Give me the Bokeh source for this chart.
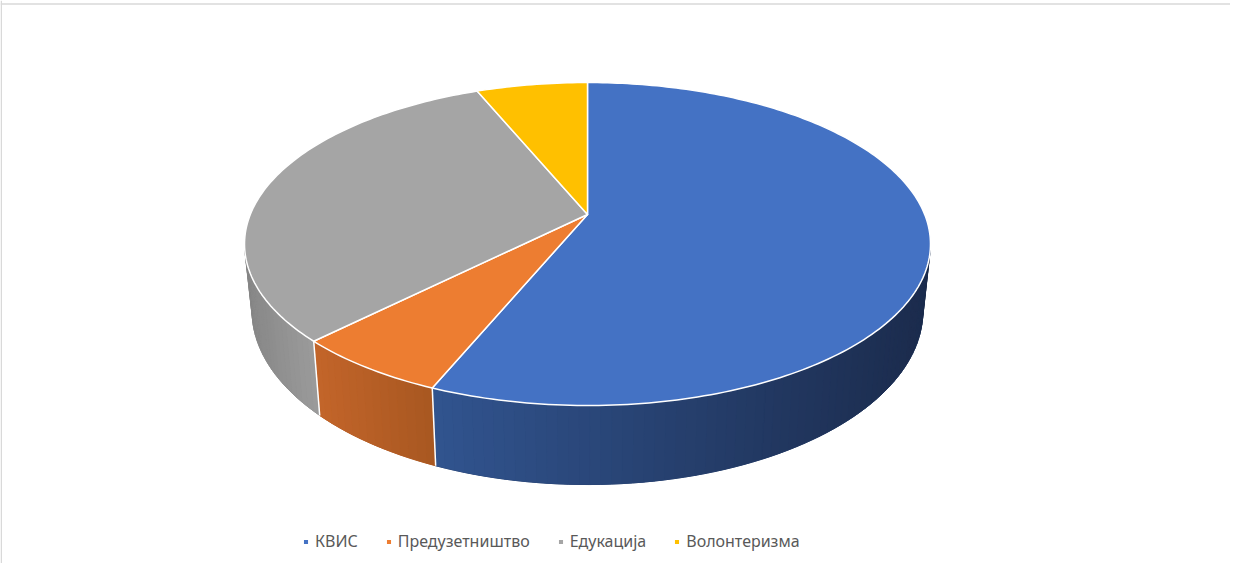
import numpy as np
from bokeh.plotting import figure
from bokeh.models import Range1d, Span, Legend, LegendItem, ColumnDataSource
from bokeh.embed import file_html
from bokeh.resources import INLINE

# ---- data ----
categories = ["КВИС", "Предузетништво", "Едукација", "Волонтеризма"]
values = [18, 2, 10, 2]
top_colors = ["#4472C4", "#ED7D31", "#A5A5A5", "#FFC000"]
side_left_colors = ["#31548F", "#C3652A", "#878787", "#C99700"]
side_right_colors = ["#1B2B4C", "#A85721", "#9B9B9B", "#B08400"]

# ---- layout / projection constants (canvas pixels) ----
W, H = 1230, 563
X0, Y0 = 587.0, 214.0          # projected pie centre
A, B = 337.2, 156.1            # horizontal / vertical radii
K = 0.1827                     # perspective factor
DEPTH = 64.6                   # side wall height
SHRINK = 0.978                 # bottom face slightly smaller (perspective)


def proj(theta, depth=0.0):
    u = np.sin(theta)
    v = -np.cos(theta)
    w = 1.0 - K * v
    s = 1.0 - (1.0 - SHRINK) * depth
    return X0 + s * A * u / w, Y0 + (B * v + depth * DEPTH) / w


def hex2rgb(h):
    h = h.lstrip("#")
    return np.array([int(h[i:i + 2], 16) for i in (0, 2, 4)], dtype=float)


def rgb2hex(c):
    c = np.clip(np.round(c), 0, 255).astype(int)
    return "#%02x%02x%02x" % tuple(c)


total = float(sum(values))
bounds = np.concatenate([[0.0], np.cumsum(values) / total * 2 * np.pi])

# visible (front) range of the side wall
front_lo = np.arctan2(np.sqrt(1 - K * K), -K) % (2 * np.pi)
front_hi = 2 * np.pi - front_lo

p = figure(width=W, height=H, output_backend="svg", toolbar_location=None,
           x_range=Range1d(0, W), y_range=Range1d(H, 0),
           min_border=0, outline_line_color=None)
p.axis.visible = False
p.grid.visible = False
p.background_fill_color = "white"
p.border_fill_color = "white"

# ---- side walls: base patch + gradient strips ----
bx, by, bc = [], [], []
sx, sy, sc = [], [], []
for i in range(len(values)):
    a0, a1 = max(bounds[i], front_lo), min(bounds[i + 1], front_hi)
    if a1 <= a0:
        continue
    n = max(2, int(np.degrees(a1 - a0) / 1.5))
    th = np.linspace(a0, a1, n + 1)
    xt, yt = proj(th, 0.0)
    xb, yb = proj(th, 1.0)
    xmin, xmax = xt.min(), xt.max()
    cl, cr = hex2rgb(side_left_colors[i]), hex2rgb(side_right_colors[i])
    bx.append(list(xt) + list(xb[::-1]))
    by.append(list(yt) + list(yb[::-1]))
    bc.append(rgb2hex((cl + cr) / 2))
    for j in range(n):
        xs_ = [xt[j], xt[j + 1], xb[j + 1], xb[j]]
        ys_ = [yt[j], yt[j + 1], yb[j + 1], yb[j]]
        t = ((xt[j] + xt[j + 1]) / 2 - xmin) / max(xmax - xmin, 1e-6)
        sx.append(xs_)
        sy.append(ys_)
        sc.append(rgb2hex(cl + (cr - cl) * t))
p.patches(xs="xs", ys="ys", fill_color="c", line_color="c", line_width=1,
          source=ColumnDataSource(dict(xs=bx, ys=by, c=bc)))
p.patches(xs="xs", ys="ys", fill_color="c", line_color="c", line_width=0.6,
          source=ColumnDataSource(dict(xs=sx, ys=sy, c=sc)))

# white edges between side walls
ex0, ey0, ex1, ey1 = [], [], [], []
for b in bounds[1:-1]:
    if front_lo < b < front_hi:
        xa, ya = proj(b, 0.0)
        xb_, yb_ = proj(b, 1.0)
        ex0.append(xa); ey0.append(ya); ex1.append(xb_); ey1.append(yb_)
p.segment(x0=ex0, y0=ey0, x1=ex1, y1=ey1, line_color="white", line_width=1.5)

# ---- top faces ----
tx, ty = [], []
for i in range(len(values)):
    n = max(4, int(np.degrees(bounds[i + 1] - bounds[i])))
    th = np.linspace(bounds[i], bounds[i + 1], n + 1)
    x, y = proj(th, 0.0)
    tx.append([X0] + list(x))
    ty.append([Y0] + list(y))
tops = p.patches(xs="xs", ys="ys", fill_color="c", line_color="white", line_width=1.5,
                 line_join="round",
                 source=ColumnDataSource(dict(xs=tx, ys=ty, c=top_colors)))

# ---- chart border (top and left) ----
p.add_layout(Span(location=3.5, dimension="width", line_color="#d9d9d9", line_width=1.5))
p.add_layout(Span(location=0.75, dimension="height", line_color="#d9d9d9", line_width=1.5))

# ---- legend ----
items = [LegendItem(label=cat, renderers=[tops], index=i)
         for i, cat in enumerate(categories)]
legend = Legend(items=items, orientation="horizontal", location=(302, 11),
                glyph_width=7, glyph_height=7, label_standoff=6, spacing=27,
                padding=0, margin=0, border_line_color=None,
                background_fill_alpha=0, label_text_font="Noto Sans",
                label_text_font_size="16px", label_text_color="#595959",
                label_height=20)
p.add_layout(legend)

open("out.html", "w").write(file_html(p, INLINE))
